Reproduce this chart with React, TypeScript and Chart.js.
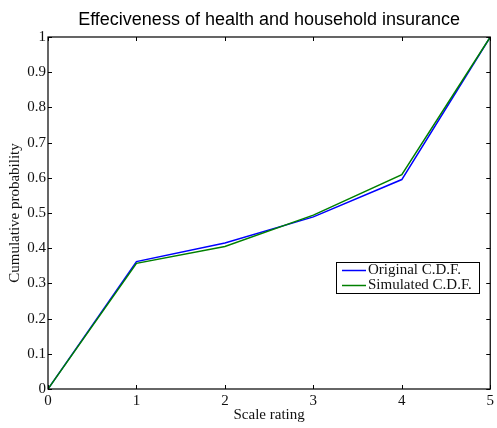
import React, { useEffect, useRef } from "react";
import { Chart, registerables } from "chart.js";

Chart.register(...registerables);

const xValues = [0, 1, 2, 3, 4, 5];
const originalCdf = [0, 0.362, 0.415, 0.489, 0.595, 1];
const simulatedCdf = [0, 0.357, 0.405, 0.494, 0.609, 1];
const titleText = "Effeciveness of health and household insurance";
const xTitle = "Scale rating";
const yTitle = "Cumulative probability";
const seriesNames = ["Original C.D.F.", "Simulated C.D.F."];
const seriesColors = ["#0000ff", "#008000"];

const SERIF = "'Liberation Serif', 'Times New Roman', serif";
const SANS = "'Liberation Sans', Arial, sans-serif";

const decorPlugin = {
  id: "decor",
  afterDatasetsDraw(chart: any) {
    const { ctx, chartArea } = chart;
    const { left, right, top, bottom } = chartArea;
    const xs = chart.scales.x;
    const ys = chart.scales.y;
    ctx.save();
    ctx.strokeStyle = "#000";
    ctx.lineWidth = 1;
    const tl = 4;
    ctx.beginPath();
    xs.ticks.forEach((t: any) => {
      const px = Math.round(xs.getPixelForValue(t.value)) + 0.5;
      ctx.moveTo(px, bottom);
      ctx.lineTo(px, bottom - tl);
      ctx.moveTo(px, top);
      ctx.lineTo(px, top + tl);
    });
    ys.ticks.forEach((t: any) => {
      const py = Math.round(ys.getPixelForValue(t.value)) + 0.5;
      ctx.moveTo(left, py);
      ctx.lineTo(left + tl, py);
      ctx.moveTo(right, py);
      ctx.lineTo(right - tl, py);
    });
    ctx.stroke();
    ctx.lineWidth = 1.2;
    ctx.strokeRect(left, top, right - left, bottom - top);

    // Title
    ctx.fillStyle = "#000";
    ctx.font = `18px ${SANS}`;
    ctx.textAlign = "center";
    ctx.textBaseline = "alphabetic";
    ctx.fillText(titleText, (left + right) / 2, 25);

    // Axis titles
    ctx.font = `15px ${SERIF}`;
    ctx.fillStyle = "#111";
    ctx.textBaseline = "middle";
    ctx.fillText(xTitle, (left + right) / 2, 415);
    ctx.save();
    ctx.translate(15, (top + bottom) / 2);
    ctx.rotate(-Math.PI / 2);
    ctx.fillText(yTitle, 0, 0);
    ctx.restore();

    // Legend
    const lx = 336, ly = 262, lw = 143, lh = 31;
    ctx.fillStyle = "#fff";
    ctx.fillRect(lx, ly, lw, lh);
    ctx.lineWidth = 1;
    ctx.strokeStyle = "#000";
    ctx.strokeRect(lx + 0.5, ly + 0.5, lw, lh);
    ctx.font = `15px ${SERIF}`;
    ctx.textAlign = "left";
    ctx.textBaseline = "middle";
    seriesNames.forEach((name, i) => {
      const cy = ly + 8.5 + i * 15;
      ctx.strokeStyle = seriesColors[i];
      ctx.lineWidth = 1.5;
      ctx.beginPath();
      ctx.moveTo(lx + 6, cy);
      ctx.lineTo(lx + 30, cy);
      ctx.stroke();
      ctx.fillStyle = "#111";
      ctx.fillText(name, lx + 32, cy);
    });
    ctx.restore();
  },
};

export default function App() {
  const ref = useRef<HTMLCanvasElement>(null);
  useEffect(() => {
    document.body.style.margin = "0";
    const canvas = ref.current!;
    const chart = new Chart(canvas, {
      type: "scatter",
      data: {
        datasets: [
          {
            label: seriesNames[0],
            data: xValues.map((x, i) => ({ x, y: originalCdf[i] })),
            showLine: true,
            borderColor: seriesColors[0],
            backgroundColor: seriesColors[0],
            borderWidth: 1.5,
            pointRadius: 0,
            order: 1,
          },
          {
            label: seriesNames[1],
            data: xValues.map((x, i) => ({ x, y: simulatedCdf[i] })),
            showLine: true,
            borderColor: seriesColors[1],
            backgroundColor: seriesColors[1],
            borderWidth: 1.5,
            pointRadius: 0,
            order: 0,
          },
        ],
      },
      options: {
        animation: false,
        responsive: false,
        devicePixelRatio: 1,
        layout: { padding: { left: 0, right: 6, top: 37, bottom: 0 } },
        plugins: {
          legend: { display: false },
          title: { display: false },
          tooltip: { enabled: false },
        },
        scales: {
          x: {
            type: "linear",
            min: 0,
            max: 5,
            grid: { display: false, drawTicks: false },
            border: { display: false },
            ticks: {
              stepSize: 1,
              padding: 3,
              color: "#111",
              maxRotation: 0,
              font: { family: SERIF, size: 15 },
            },
            afterFit(scale: any) {
              scale.height = 39;
            },
          },
          y: {
            type: "linear",
            min: 0,
            max: 1,
            grid: { display: false, drawTicks: false },
            border: { display: false },
            ticks: {
              stepSize: 0.1,
              padding: 2,
              color: "#111",
              font: { family: SERIF, size: 15 },
              callback: (v: any) => String(Math.round(Number(v) * 10) / 10),
            },
            afterFit(scale: any) {
              scale.width = 48;
            },
          },
        },
      },
      plugins: [decorPlugin],
    });
    return () => chart.destroy();
  }, []);
  return (
    <div style={{ position: "absolute", left: 0, top: 0, width: 497, height: 428, background: "#fff" }}>
      <canvas ref={ref} width={497} height={428} style={{ display: "block" }} />
    </div>
  );
}
